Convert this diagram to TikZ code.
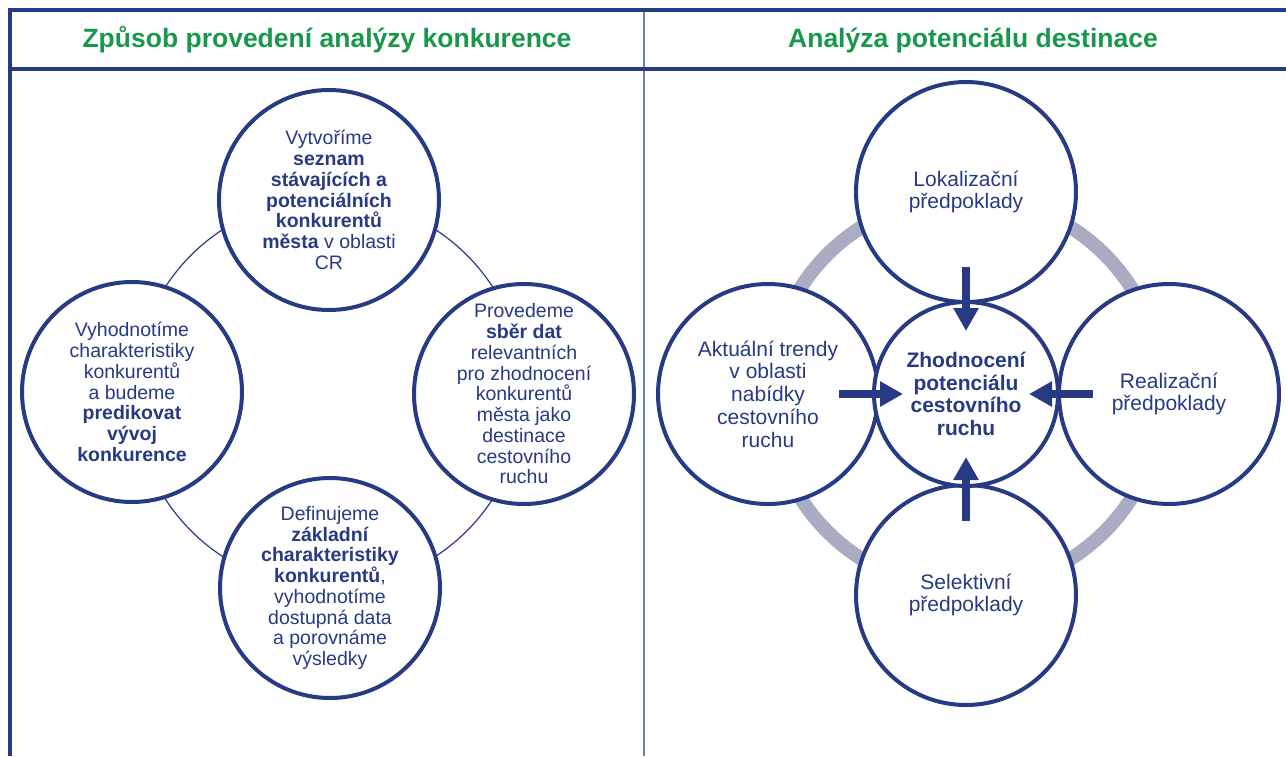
\documentclass[tikz,border=0pt]{standalone}
\usepackage{fontspec}
\setmainfont{Liberation Sans}
\usetikzlibrary{arrows.meta,calc}
\definecolor{navy}{RGB}{40,58,132}
\definecolor{divblue}{RGB}{112,128,184}
\definecolor{headgreen}{RGB}{24,152,74}
\definecolor{ringgrey}{RGB}{170,172,196}

\begin{document}
\begin{tikzpicture}[x=1pt, y=-1pt, >={Triangle[width=24pt, length=23pt]}]
    \useasboundingbox (0, 0) rectangle (1286, 756);

    \tikzstyle{frame} = [navy, line width=4pt]
    \tikzstyle{bubble} = [circle, draw = navy, line width=4pt, fill = white, inner sep = 0pt, minimum size = 220pt]
    \tikzstyle{hub} = [bubble, minimum size = 184pt]
    \tikzstyle{small} = [align=center, text = navy, font=\fontsize{19.5}{20.75}\selectfont]
    \tikzstyle{big} = [align=center, text = navy, font=\fontsize{21}{22.7}\selectfont]
    \tikzstyle{head} = [anchor=base, text = headgreen, font=\fontsize{26.5}{30}\selectfont\bfseries]
    \tikzstyle{push} = [->, navy, line width=7.5pt]

    % frame
    \draw[divblue, line width=2.5pt] (644, 9.5) -- (644, 756);
    \draw[frame] (9.5, 7.5) -- (9.5, 756);
    \draw[frame] (7.5, 9.5) -- (1286, 9.5);
    \draw[frame] (7.5, 68.7) -- (1286, 68.7);

    \node[head] (konk) at (327, 47) {Způsob provedení analýzy konkurence};
    \node[head] (dest) at (973, 47) {Analýza potenciálu destinace};

    % left: competition analysis
    \draw[navy, line width=1.2pt] (329, 393) circle[radius=195pt];

    \node[bubble] (seznam) at (329, 200) {};
    \node[small] (seznam-t) at (seznam) {Vytvoříme\\\textbf{seznam}\\\textbf{stávajících a}\\\textbf{potenciálních}\\\textbf{konkurentů}\\\textbf{města} v oblasti\\CR};

    \node[bubble] (sber) at (524, 394) {};
    \node[small] (sber-t) at (sber) {Provedeme\\\textbf{sběr dat}\\relevantních\\pro zhodnocení\\konkurentů\\města jako\\destinace\\cestovního\\ruchu};

    \node[bubble] (zaklad) at (330, 588) {};
    \node[small] (zaklad-t) at (zaklad) {Definujeme\\\textbf{základní}\\\textbf{charakteristiky}\\\textbf{konkurentů},\\vyhodnotíme\\dostupná data\\a porovnáme\\výsledky};

    \node[bubble] (vyvoj) at (132, 392) {};
    \node[small] (vyvoj-t) at (vyvoj) {Vyhodnotíme\\charakteristiky\\konkurentů\\a budeme\\\textbf{predikovat}\\\textbf{vývoj}\\\textbf{konkurence}};

    % right: destination potential
    \draw[ringgrey, line width=14pt] (966, 393) circle[radius=196pt];

    \node[bubble] (lokal) at (966, 192) {};
    \node[big] (lokal-t) at (lokal) {Lokalizační\\předpoklady};

    \node[bubble] (trendy) at (768, 394) {};
    \node[big] (trendy-t) at (trendy) {Aktuální trendy\\v oblasti\\nabídky\\cestovního\\ruchu};

    \node[bubble] (realiz) at (1169, 394) {};
    \node[big] (realiz-t) at (realiz) {Realizační\\předpoklady};

    \node[bubble] (selekt) at (966, 595) {};
    \node[big] (selekt-t) at (selekt) {Selektivní\\předpoklady};

    \node[hub] (zhod) at (966, 394) {};
    \node[big, font=\fontsize{21}{22.7}\selectfont\bfseries] (zhod-t) at (zhod) {Zhodnocení\\potenciálu\\cestovního\\ruchu};

    \foreach \src in {lokal, trendy, realiz, selekt}
        \draw[push] ($(zhod)!127pt!(\src)$) -- ($(zhod)!63pt!(\src)$);
\end{tikzpicture}
\end{document}
